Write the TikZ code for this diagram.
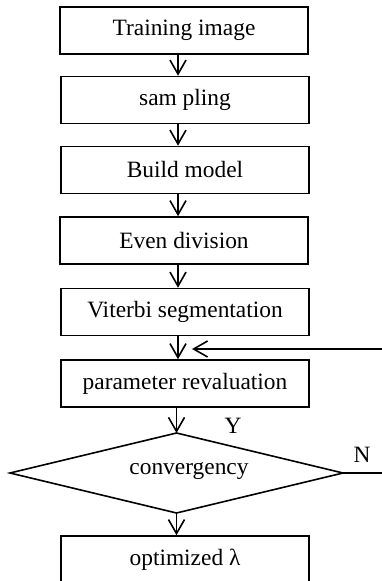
\documentclass[tikz,border=0pt]{standalone}
\usepackage{fontspec}
\setmainfont{Liberation Serif}
\usetikzlibrary{arrows.meta,calc}
\begin{document}
\begin{tikzpicture}[x=0.5pt,y=-0.5pt,
  every node/.style={font=\fontsize{11.7}{14}\selectfont},
  box/.style={draw, line width=0.8pt, minimum width=124pt, minimum height=23.5pt, inner sep=0pt},
  conn/.style={line width=0.8pt},
  arr/.style={conn, -{Straight Barb[length=7pt,width=8pt,line width=0.8pt]}}]
\useasboundingbox (0,0) rectangle (381,581);
\node[box] (t1) at (184,30.5) {Training image};
\node[box] (t2) at (185,100) {sam pling};
\node[box] (t3) at (185,170) {Build model};
\node[box] (t4) at (184,240.5) {Even division};
\node[box] (t5) at (185,312) {Viterbi segmentation};
\node[box] (t6) at (185,383.5) {parameter revaluation};
\coordinate (dn) at (176.5,433);
\coordinate (de) at (343,473);
\coordinate (ds) at (176.5,513);
\coordinate (dw) at (10,473);
\draw[conn, line join=miter] (dn) -- (de) -- (ds) -- (dw) -- cycle;
\node (d) at (189,471) {convergency};
\node[box] (t7) at (185,559.5) {optimized λ};
\coordinate (col) at (178,0);
\coordinate (edge) at (384,0);
\coordinate (merge) at (178,349);
\draw[arr] (t1.south -| col) -- (t2.north -| col);
\draw[arr] (t2.south -| col) -- (t3.north -| col);
\draw[arr] (t3.south -| col) -- (t4.north -| col);
\draw[arr] (t4.south -| col) -- (t5.north -| col);
\draw[arr] (t5.south -| col) -- (t6.north -| col);
\draw[arr] (t6.south -| dn) -- (dn);
\draw[arr] (ds) -- (t7.north -| ds);
\draw[arr] (de) -- (de -| edge) -- (edge |- merge) -- ([xshift=7pt]merge);
\node (y) at (233,426) {Y};
\node (n) at (362,455) {N};
\end{tikzpicture}
\end{document}
